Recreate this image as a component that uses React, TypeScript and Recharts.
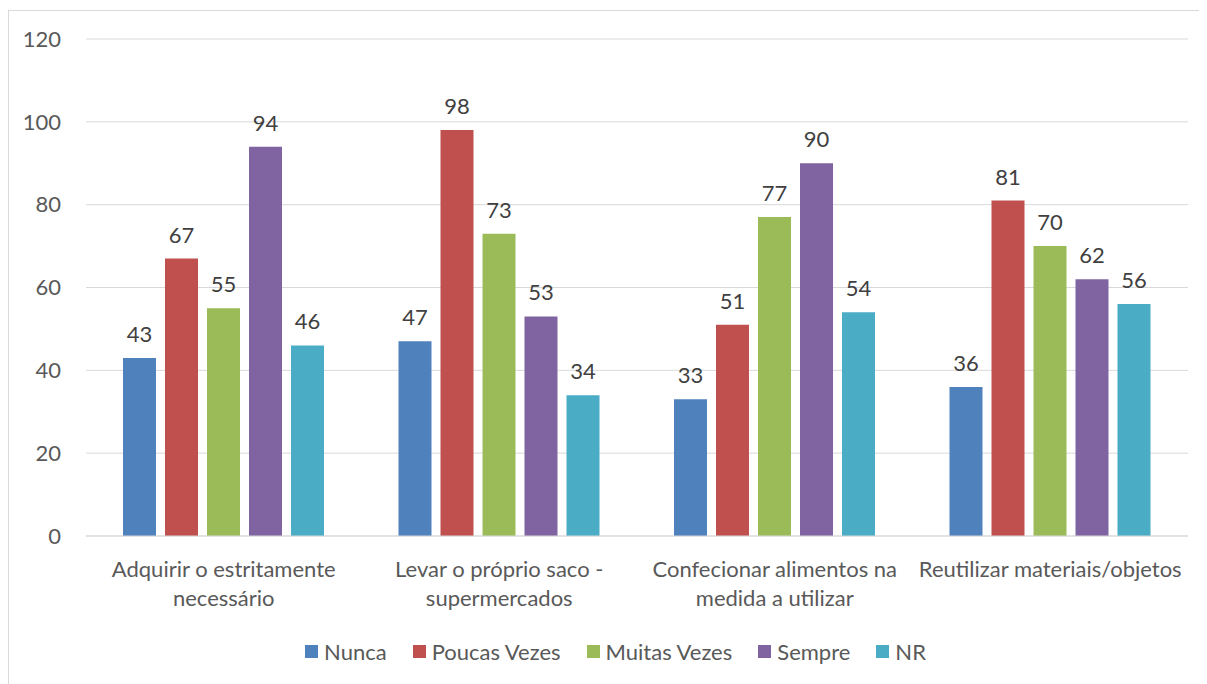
import React from 'react';
import { BarChart, Bar, XAxis, YAxis, CartesianGrid, Legend, LabelList } from 'recharts';

const categories = [
  'Adquirir o estritamente necessário',
  'Levar o próprio saco - supermercados',
  'Confecionar alimentos na medida a utilizar',
  'Reutilizar materiais/objetos',
];
const nunca = [43, 47, 33, 36];
const poucasVezes = [67, 98, 51, 81];
const muitasVezes = [55, 73, 77, 70];
const sempre = [94, 53, 90, 62];
const nr = [46, 34, 54, 56];
const yTicks = [0, 20, 40, 60, 80, 100, 120];

const seriesList = [
  { key: 'nunca', name: 'Nunca', color: '#4F81BD' },
  { key: 'poucas', name: 'Poucas Vezes', color: '#C0504D' },
  { key: 'muitas', name: 'Muitas Vezes', color: '#9BBB59' },
  { key: 'sempre', name: 'Sempre', color: '#8064A2' },
  { key: 'nr', name: 'NR', color: '#4BACC6' },
];

const data = categories.map((name, i) => ({
  name,
  nunca: nunca[i],
  poucas: poucasVezes[i],
  muitas: muitasVezes[i],
  sempre: sempre[i],
  nr: nr[i],
}));

const FONT = 'Lato, "Open Sans", sans-serif';
const TEXT = '#595959';
const FS = 22;

const wrap = (s: string, max: number) => {
  const lines: string[] = [];
  let cur = '';
  s.split(' ').forEach((w) => {
    const next = cur ? cur + ' ' + w : w;
    if (next.length > max && cur) {
      lines.push(cur);
      cur = w;
    } else cur = next;
  });
  if (cur) lines.push(cur);
  return lines;
};

const CategoryTick = (props: any) => {
  const { x, y, payload } = props;
  const lines = wrap(payload.value, 28);
  return (
    <text x={x} y={y} textAnchor="middle" fill={TEXT} fontSize={FS} fontFamily={FONT}>
      {lines.map((l, i) => (
        <tspan key={i} x={x} dy={i === 0 ? 33 : 29}>
          {l}
        </tspan>
      ))}
    </text>
  );
};

const LegendContent = () => (
  <div
    style={{
      display: 'flex',
      justifyContent: 'center',
      alignItems: 'center',
      fontFamily: FONT,
      fontSize: FS,
      color: TEXT,
      height: 40,
      paddingLeft: 34,
    }}
  >
    {seriesList.map((s) => (
      <div key={s.key} style={{ display: 'flex', alignItems: 'center', margin: '0 13px' }}>
        <span style={{ width: 13, height: 13, background: s.color, display: 'inline-block', marginRight: 6 }} />
        <span>{s.name}</span>
      </div>
    ))}
  </div>
);

const App: React.FC = () => {
  return (
    <div
      style={{
        width: 1199,
        height: 674,
        marginTop: 2,
        borderTop: '1px solid #d9d9d9',
        borderLeft: '1px solid #d9d9d9',
        boxSizing: 'border-box',
        background: '#fff',
      }}
    >
      <BarChart
        width={1198}
        height={673}
        data={data}
        margin={{ top: 28, right: 19, left: 0, bottom: 13 }}
        barSize={33}
        barGap={9}
        barCategoryGap="13%"
      >
        <CartesianGrid vertical={false} stroke="#d9d9d9" />
        <XAxis
          dataKey="name"
          height={95}
          tick={<CategoryTick />}
          tickLine={false}
          axisLine={{ stroke: '#d9d9d9' }}
          interval={0}
        />
        <YAxis
          width={77}
          domain={[0, 120]}
          ticks={yTicks}
          tickSize={0}
          tickMargin={25}
          axisLine={false}
          tickLine={false}
          tick={{ fill: TEXT, fontSize: FS, fontFamily: FONT }}
        />
        <Legend verticalAlign="bottom" height={40} content={<LegendContent />} />
        {seriesList.map((s) => (
          <Bar key={s.key} dataKey={s.key} name={s.name} fill={s.color} isAnimationActive={false}>
            <LabelList
              dataKey={s.key}
              position="top"
              offset={16}
              fill="#404040"
              fontSize={FS}
              fontFamily={FONT}
            />
          </Bar>
        ))}
      </BarChart>
    </div>
  );
};

export default App;
